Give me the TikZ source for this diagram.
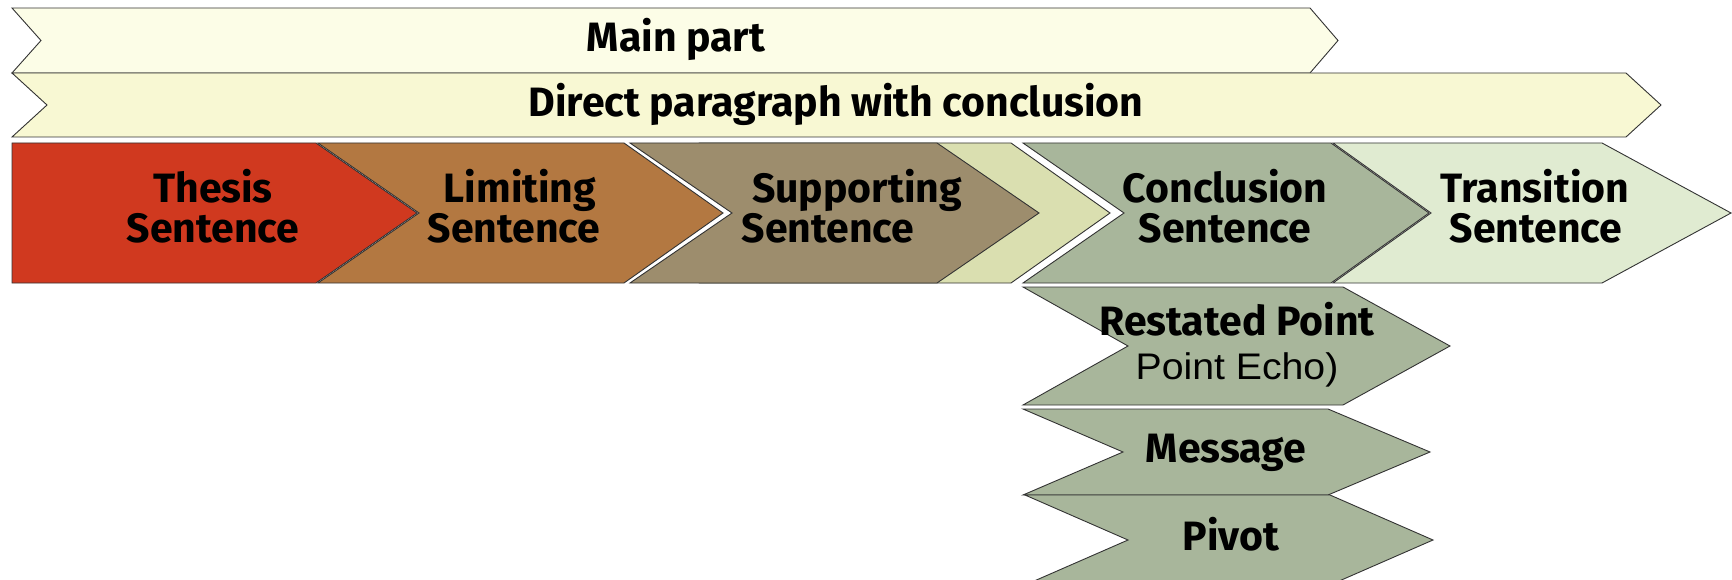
\documentclass[tikz,border=0pt]{standalone}
\usepackage{fontspec}
\setmainfont{Fira Sans}
\newfontfamily\echofont{Liberation Sans}[FakeStretch=1.06]
\definecolor{cMain}{HTML}{FCFDE7}
\definecolor{cDirect}{HTML}{F8F8D3}
\definecolor{cThesis}{HTML}{D0391F}
\definecolor{cLimit}{HTML}{B37841}
\definecolor{cSupport}{HTML}{9D8D6D}
\definecolor{cLight}{HTML}{DADFB0}
\definecolor{cConcl}{HTML}{A8B69B}
\definecolor{cTrans}{HTML}{E0EBD1}
\definecolor{cLine}{HTML}{333333}
% chevron: x0, x1 (body end), x2 (tip), xn (notch), ytop, ybot, fill
\newcommand{\chev}[7]{%
  \filldraw[shp, fill=#7] (#1,#5) -- (#2,#5) -- (#3,{(#5+#6)/2}) -- (#2,#6) -- (#1,#6) -- (#4,{(#5+#6)/2}) -- cycle;}
\begin{document}
\begin{tikzpicture}[x=1pt,y=-1pt,
  shp/.style={draw=cLine, line width=0.9pt, line join=miter},
  lbl/.style={font=\fontsize{41}{41}\selectfont\bfseries, anchor=base, inner sep=0pt, text=black},
  lbr/.style={font=\fontsize{37}{37}\selectfont\echofont, anchor=base, inner sep=0pt, text=black}]
\useasboundingbox (0,0) rectangle (1732,580);
\begin{scope}
\clip (0,0) rectangle (1732,580);
% banners
\chev{12}{1310}{1338}{41}{8}{73}{cMain}
\chev{12}{1626}{1661}{47}{73}{137}{cDirect}
% sentence row
\chev{318}{624}{723}{419}{143}{283}{cLimit}
\chev{12}{316}{417}{12}{143}{283}{cThesis}
\chev{700}{1011}{1110}{800}{143}{283}{cLight}
\chev{630}{937}{1039}{732}{143}{283}{cSupport}
\chev{1333}{1602}{1731}{1431}{143}{283}{cTrans}
\chev{1023}{1331}{1429}{1124}{143}{283}{cConcl}
% conclusion parts
\chev{1023}{1343}{1450}{1128}{287}{405}{cConcl}
\chev{1023}{1328}{1430}{1123}{409}{495}{cConcl}
\chev{1025}{1330}{1433}{1128}{495}{585}{cConcl}
\end{scope}
% labels
\node[lbl] (mainpart) at (676,52) {Main part};
\node[lbl] (direct) at (836,117) {Direct paragraph with conclusion};
\node[lbl] (thesisA) at (213,203) {Thesis};
\node[lbl] (thesisB) at (213,242) {Sentence};
\node[lbl] (limitA) at (520,203) {Limiting};
\node[lbl] (limitB) at (514,242) {Sentence};
\node[lbl] (supportA) at (857,203) {Supporting};
\node[lbl] (supportB) at (828,242) {Sentence};
\node[lbl] (conclA) at (1225,203) {Conclusion};
\node[lbl] (conclB) at (1225,242) {Sentence};
\node[lbl] (transA) at (1535,203) {Transition};
\node[lbl] (transB) at (1536,242) {Sentence};
\node[lbl] (restated) at (1237,335) {Restated Point};
\node[lbr] (echo) at (1237,379) {Point Echo)};
\node[lbl] (message) at (1226,462) {Message};
\node[lbl] (pivot) at (1231,550) {Pivot};
\end{tikzpicture}
\end{document}
